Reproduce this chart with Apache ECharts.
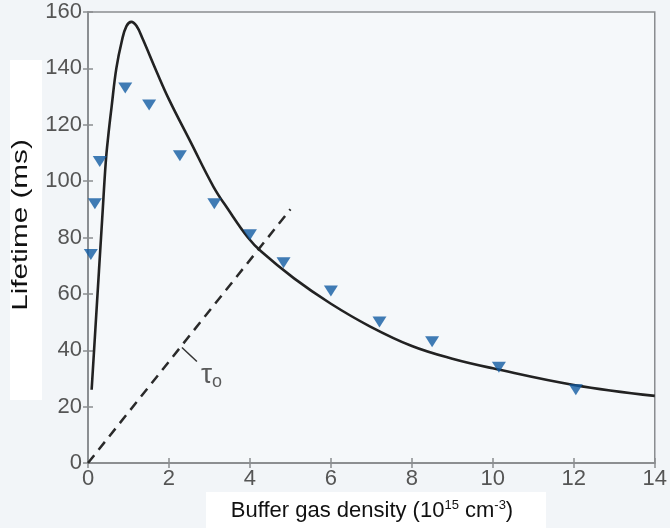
<!DOCTYPE html>
<html>
<head>
<meta charset="utf-8">
<script src="https://cdn.jsdelivr.net/npm/echarts@6/dist/echarts.min.js"></script>
<style>
html,body{margin:0;padding:0;background:#f2f5f8;}
#c{width:670px;height:528px;}
</style>
</head>
<body>
<div id="c"></div>
<script>
// Measured data (triangles)
var measX = [0.07, 0.17, 0.29, 0.92, 1.51, 2.27, 3.12, 4.0, 4.83, 6.0, 7.2, 8.5, 10.15, 12.05];
var measY = [74, 92, 107, 133, 127, 109, 92, 81, 71, 61, 50, 43, 34, 26];
// Model curve (solid)
var curveX = [0.09, 0.18, 0.27, 0.35, 0.44, 0.5, 0.58, 0.7, 0.84, 0.95, 1.07, 1.2, 1.35, 1.69, 2.0, 2.53, 3.1, 3.46, 3.95, 4.28, 5.09, 6.0, 6.96, 8.0, 9.0, 10.0, 12.0, 14.0];
var curveY = [26, 47, 68, 86.5, 107, 116, 126, 140, 150, 155, 156.5, 155, 150.5, 139, 129, 114, 98, 90, 80, 75, 65.5, 56.5, 48.5, 41.5, 37, 33.6, 27.7, 23.8];
// tau_0 line (dashed)
var tauX = [0, 5];
var tauY = [0, 90];
// tau label leader and label position
var leaderX = [2.32, 2.69];
var leaderY = [41, 36];
var labelPos = [3.05, 31];

function pairs(xs, ys){ return xs.map(function(x,i){ return [x, ys[i]]; }); }

var chart = echarts.init(document.getElementById('c'), null, {renderer:'canvas'});
var axisColor = '#8a8d90';
var lblColor = '#555';
var font = 'Liberation Sans, Arial, sans-serif';
var option = {
  backgroundColor: '#f2f5f8',
  animation: false,
  grid: {left: 88, right: 9, top: 12, bottom: 65, show: true, backgroundColor: '#f5f8fa', borderColor: axisColor, borderWidth: 1.5},
  xAxis: [{
    type: 'value', min: 0, max: 14, interval: 2,
    axisLine: {show: true, lineStyle: {color: axisColor, width: 1.5}},
    axisTick: {show: true, inside: true, length: 5, lineStyle: {color: axisColor, width: 1.5}},
    axisLabel: {color: lblColor, fontSize: 22, fontFamily: font, margin: 5},
    splitLine: {show: false}
  },{
    type: 'value', min: 0, max: 14, interval: 2, position: 'top',
    axisLine: {show: true, lineStyle: {color: axisColor, width: 1.5}},
    axisTick: {show: true, inside: true, length: 5, lineStyle: {color: axisColor, width: 1.5}},
    axisLabel: {show: false}, splitLine: {show: false}
  }],
  yAxis: [{
    type: 'value', min: 0, max: 160, interval: 20,
    axisLine: {show: true, lineStyle: {color: axisColor, width: 1.5}},
    axisTick: {show: true, inside: true, length: 5, lineStyle: {color: axisColor, width: 1.5}},
    axisLabel: {color: lblColor, fontSize: 22, fontFamily: font, margin: 6},
    splitLine: {show: false}
  },{
    type: 'value', min: 0, max: 160, interval: 20, position: 'right',
    axisLine: {show: true, lineStyle: {color: axisColor, width: 1.5}},
    axisTick: {show: true, inside: true, length: 5, lineStyle: {color: axisColor, width: 1.5}},
    axisLabel: {show: false}, splitLine: {show: false}
  }],
  series: [
    {type: 'line', data: pairs(tauX, tauY), symbol: 'none', lineStyle: {color: '#2a2a2a', width: 2.5, type: [10, 7]}, z: 2},
    {type: 'line', data: pairs(leaderX, leaderY), symbol: 'none', lineStyle: {color: '#333', width: 1.5}, z: 2},
    {type: 'line', data: pairs(curveX, curveY), symbol: 'none', smooth: 0.4, lineStyle: {color: '#222', width: 2.6}, z: 3},
    {type: 'scatter', data: pairs(measX, measY), symbol: 'triangle', symbolRotate: 180, symbolSize: [14, 11],
      itemStyle: {color: '#125ba3'}, z: 4},
    {type: 'scatter', data: [labelPos], symbolSize: 0,
      label: {show: true, position: 'inside', formatter: '{t|τ}{o|o}',
        rich: {t: {fontSize: 28, color: '#333', fontFamily: font}, o: {fontSize: 18, color: '#333', fontFamily: font, padding: [12, 0, 0, 0]}}}, z: 4}
  ],
  graphic: [
    {type: 'rect', shape: {x: 10, y: 60, width: 32, height: 340}, style: {fill: '#ffffff'}, z: -1},
    {type: 'text', x: 21, y: 225, rotation: Math.PI/2, scaleX: 1.35,
      style: {text: 'Lifetime (ms)', fontSize: 22, fontFamily: font, fill: '#111', align: 'center', verticalAlign: 'middle'}},
    {type: 'rect', shape: {x: 206, y: 492, width: 340, height: 36}, style: {fill: '#ffffff'}, z: -1},
    {type: 'text', x: 372, y: 511,
      style: {text: '{n|Buffer gas density (10}{s|15}{n| cm}{s|-3}{n|)}', fontFamily: font, align: 'center', verticalAlign: 'middle',
        rich: {n: {fontSize: 22, fill: '#111', fontFamily: font}, s: {fontSize: 13, fill: '#111', fontFamily: font, padding: [0, 0, 11, 0]}}}}
  ]
};
chart.setOption(option);
</script>
</body>
</html>
